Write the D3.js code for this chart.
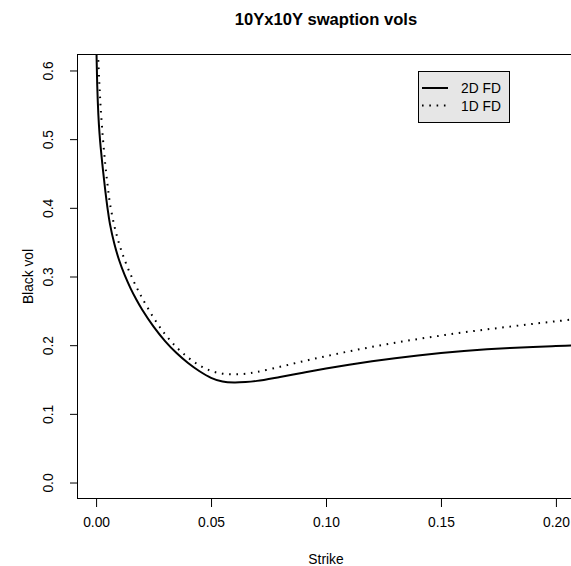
<!DOCTYPE html>
<html>
<head>
<meta charset="utf-8">
<script src="https://cdn.jsdelivr.net/npm/d3@7"></script>
<style>
  html, body { margin: 0; padding: 0; background: #fff; }
  svg { display: block; }
  text { font-family: "Liberation Sans", Arial, Helvetica, sans-serif; fill: #000; }
</style>
</head>
<body>
<svg id="chart" width="571" height="566"></svg>
<script>
const title = "10Yx10Y swaption vols";
const xLabel = "Strike";
const yLabel = "Black vol";
const seriesNames = ["2D FD", "1D FD"];
const xTicks = [0, 0.05, 0.10, 0.15, 0.20];
const yTicks = [0.0, 0.1, 0.2, 0.3, 0.4, 0.5, 0.6];

const strikes = [0, 0.0005, 0.001, 0.0015, 0.002, 0.003, 0.004, 0.005, 0.006, 0.008, 0.010, 0.0125, 0.015, 0.0175,
  0.02, 0.025, 0.03, 0.035, 0.04, 0.045, 0.05, 0.055, 0.06, 0.065, 0.07, 0.08, 0.09, 0.10,
  0.11, 0.12, 0.13, 0.14, 0.15, 0.16, 0.17, 0.18, 0.19, 0.20, 0.21];
const vol2D = [0.66, 0.578, 0.535, 0.508, 0.488, 0.455, 0.425, 0.399, 0.377, 0.347, 0.324, 0.3015, 0.2828, 0.2665,
  0.252, 0.227, 0.206, 0.1885, 0.174, 0.162, 0.1525, 0.147, 0.1455, 0.1462, 0.148, 0.1538, 0.160, 0.166,
  0.1715, 0.1765, 0.181, 0.185, 0.1885, 0.1915, 0.194, 0.196, 0.1975, 0.1988, 0.1998];
const vol1D = [0.70, 0.65, 0.612, 0.576, 0.546, 0.500, 0.463, 0.433, 0.407, 0.373, 0.348, 0.3235, 0.303, 0.285,
  0.269, 0.240, 0.216, 0.197, 0.182, 0.1705, 0.1625, 0.1585, 0.1575, 0.1583, 0.161, 0.1685, 0.1765, 0.184,
  0.191, 0.1975, 0.2035, 0.209, 0.214, 0.2187, 0.223, 0.227, 0.231, 0.2348, 0.2385];

const svg = d3.select("#chart");
const L = 77, T = 54, B = 499, R = 575;

const x = d3.scaleLinear().domain([-0.0083, 0.2083]).range([L, R]);
const y = d3.scaleLinear().domain([-0.024, 0.624]).range([B, T]);

svg.append("defs").append("clipPath").attr("id", "clip")
  .append("rect").attr("x", L).attr("y", T).attr("width", R - L).attr("height", B - T);

// title
svg.append("text").attr("x", (L + R) / 2).attr("y", 25).attr("text-anchor", "middle")
  .attr("font-weight", "bold").attr("font-size", "16.6px").text(title);

// axes
const xAxis = d3.axisBottom(x).tickValues(xTicks).tickFormat(d3.format(".2f")).tickSize(8).tickPadding(10);
const gx = svg.append("g").attr("transform", `translate(0,${B})`).call(xAxis);
gx.select(".domain").remove();
gx.selectAll("text").attr("font-size", "13.8px").attr("font-family", "Liberation Sans, Arial, sans-serif");
gx.selectAll("line").attr("stroke", "#000");

const yAxis = d3.axisLeft(y).tickValues(yTicks).tickFormat(d3.format(".1f")).tickSize(7);
const gy = svg.append("g").attr("transform", `translate(${L},0)`).call(yAxis);
gy.select(".domain").remove();
gy.selectAll("line").attr("stroke", "#000");
gy.selectAll("text").remove();
gy.selectAll(".tick").append("text")
  .attr("transform", "translate(-24,0) rotate(-90)")
  .attr("text-anchor", "middle").attr("font-size", "13.8px")
  .attr("fill", "#000")
  .text(d => d3.format(".1f")(d));

// axis labels
svg.append("text").attr("x", (L + R) / 2).attr("y", 564).attr("text-anchor", "middle")
  .attr("font-size", "13.8px").text(xLabel);
svg.append("text").attr("transform", `translate(33,${(T + B) / 2}) rotate(-90)`)
  .attr("text-anchor", "middle").attr("font-size", "13.8px").text(yLabel);

// curves
const data2D = strikes.map((s, i) => [s, vol2D[i]]);
const data1D = strikes.map((s, i) => [s, vol1D[i]]);
const line = d3.line().x(d => x(d[0])).y(d => y(d[1])).curve(d3.curveCatmullRom.alpha(0.5));
const gLines = svg.append("g").attr("clip-path", "url(#clip)");
gLines.append("path").datum(data1D).attr("d", line).attr("fill", "none")
  .attr("stroke", "#000").attr("stroke-width", 2).attr("stroke-dasharray", "1.6,5.7");
gLines.append("path").datum(data2D).attr("d", line).attr("fill", "none")
  .attr("stroke", "#000").attr("stroke-width", 2);

// box
svg.append("rect").attr("x", L + 0.5).attr("y", T + 0.5).attr("width", R - L).attr("height", B - T - 1)
  .attr("fill", "none").attr("stroke", "#000").attr("stroke-width", 1);

// legend
const lg = svg.append("g");
lg.append("rect").attr("x", 418.5).attr("y", 71.5).attr("width", 91).attr("height", 51)
  .attr("fill", "#e6e6e6").attr("stroke", "#000").attr("stroke-width", 1);
const legY = [88, 105.5];
const dashes = [null, "1.6,5.7"];
seriesNames.forEach((name, i) => {
  const ln = lg.append("line").attr("x1", 422).attr("x2", 448).attr("y1", legY[i]).attr("y2", legY[i])
    .attr("stroke", "#000").attr("stroke-width", 2);
  if (dashes[i]) ln.attr("stroke-dasharray", dashes[i]);
  lg.append("text").attr("x", 461).attr("y", legY[i] + 5).attr("font-size", "13.8px").text(name);
});
</script>
</body>
</html>
